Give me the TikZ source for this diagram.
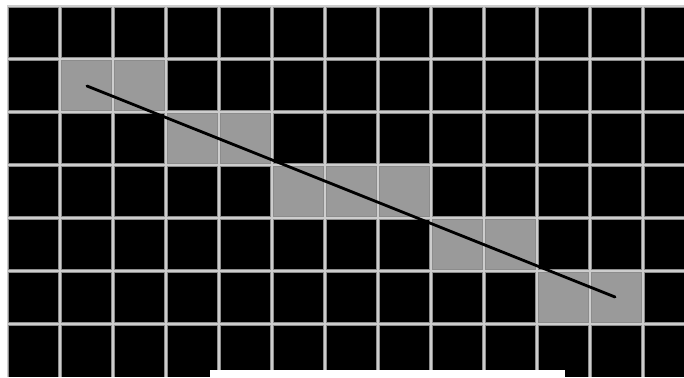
\documentclass[tikz,border=0pt]{standalone}
\definecolor{cellgray}{HTML}{9A9A9A}
\definecolor{gridedge}{HTML}{8C8C8C}
\definecolor{gridcore}{HTML}{CDCDCD}
\tikzset{
  gridouter/.style={draw=gridedge, line width=4.5pt},
  gridinner/.style={draw=gridcore, line width=2pt},
  litcell/.style={fill=cellgray},
  rasterline/.style={draw=black, line width=2.8pt, line cap=round}
}
\begin{document}
\begin{tikzpicture}[x=1pt,y=-1pt]
\useasboundingbox (0,0) rectangle (684,377);
\fill[white] (0,0) rectangle (684,377);
\fill[black] (7,6) rectangle (684,377);
\foreach \c/\r in {1/1,2/1,3/2,4/2,5/3,6/3,7/3,8/4,9/4,10/5,11/5}
  \path[litcell] ({7+53*\c},{6+53*\r}) rectangle ++(53,53);
\begin{scope}
\clip (7,6) rectangle (684,377);
\foreach \c in {0,...,12} {
  \path[gridouter] ({7+53*\c},6) -- ({7+53*\c},377);
}
\foreach \r in {0,...,6} {
  \path[gridouter] (7,{6+53*\r}) -- (684,{6+53*\r});
}
\foreach \c in {0,...,12} {
  \path[gridinner] ({7+53*\c},6) -- ({7+53*\c},377);
}
\foreach \r in {0,...,6} {
  \path[gridinner] (7,{6+53*\r}) -- (684,{6+53*\r});
}
\end{scope}
\fill[white] (210,370) rectangle (565,377);
\coordinate (p) at (87,86);
\coordinate (q) at (615,297);
\path[rasterline] (p) -- (q);
\end{tikzpicture}
\end{document}
